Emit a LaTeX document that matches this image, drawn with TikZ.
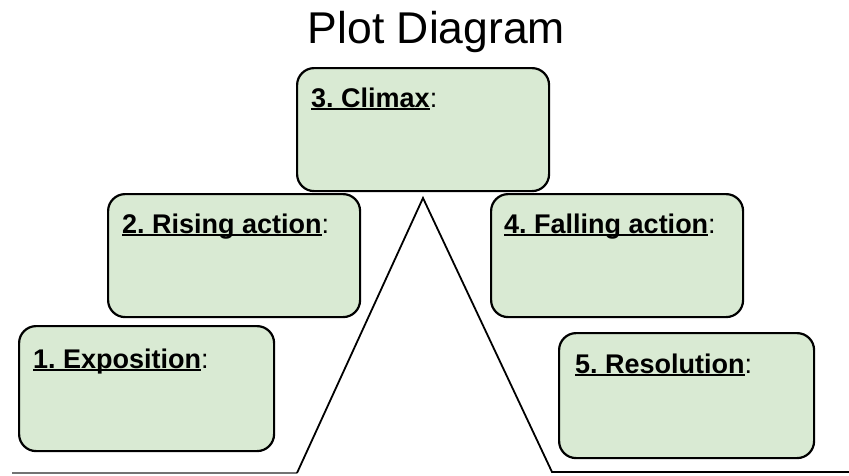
\documentclass[tikz,border=0pt]{standalone}
\usepackage{fontspec}
\setmainfont{Liberation Sans}
\frenchspacing
\definecolor{boxgreen}{HTML}{D9EAD3}
\newcommand\ulword[1]{\setbox0\hbox{#1}\rlap{\rule[-0.12em]{\wd0}{0.075em}}\box0}
\tikzset{
  plotbox/.style={draw=black, line width=2.2pt, fill=boxgreen, rounded corners=17pt,
    minimum width=252pt, minimum height=123pt, inner sep=0pt, anchor=north west},
  boxlabel/.style={anchor=base west, inner sep=0pt, font=\fontsize{27}{32}\selectfont},
  plotline/.style={draw=black, line width=1.8pt, line join=miter},
}
\begin{document}
\begin{tikzpicture}[x=1pt,y=-1pt]
\useasboundingbox (0,0) rectangle (849,475);
% title
\node[anchor=base, inner sep=0pt, font=\fontsize{44.5}{50}\selectfont] (title) at (436.5,43) {Plot Diagram};
% plot line
\coordinate (s0) at (12,473);
\coordinate (s1) at (297,473);
\coordinate (apex) at (423,198);
\coordinate (s2) at (552,472);
\coordinate (s3) at (849,472);
\draw[draw=black!55, line width=1.3pt] (s0) -- (s1);
\draw[plotline] (s1) -- (apex) -- (s2) -- (s3);
% boxes
\node[plotbox] (b3) at (296,67) {};
\node[plotbox] (b2) at (107,193) {};
\node[plotbox] (b4) at (490,193) {};
\node[plotbox, minimum width=255pt, minimum height=125pt] (b1) at (18,325) {};
\node[plotbox, minimum width=255pt, minimum height=125pt] (b5) at (558,332) {};
% labels
\node[boxlabel] (l3) at ([shift={(15,40)}]b3.north west) {\ulword{\textbf{3. Climax}}:};
\node[boxlabel] (l2) at ([shift={(15,40)}]b2.north west) {\ulword{\textbf{2. Rising action}}:};
\node[boxlabel] (l4) at ([shift={(14,40)}]b4.north west) {\ulword{\textbf{4. Falling action}}:};
\node[boxlabel] (l1) at ([shift={(15,43)}]b1.north west) {\ulword{\textbf{1. Exposition}}:};
\node[boxlabel] (l5) at ([shift={(17,41)}]b5.north west) {\ulword{\textbf{5. Resolution}}:};
\end{tikzpicture}
\end{document}
